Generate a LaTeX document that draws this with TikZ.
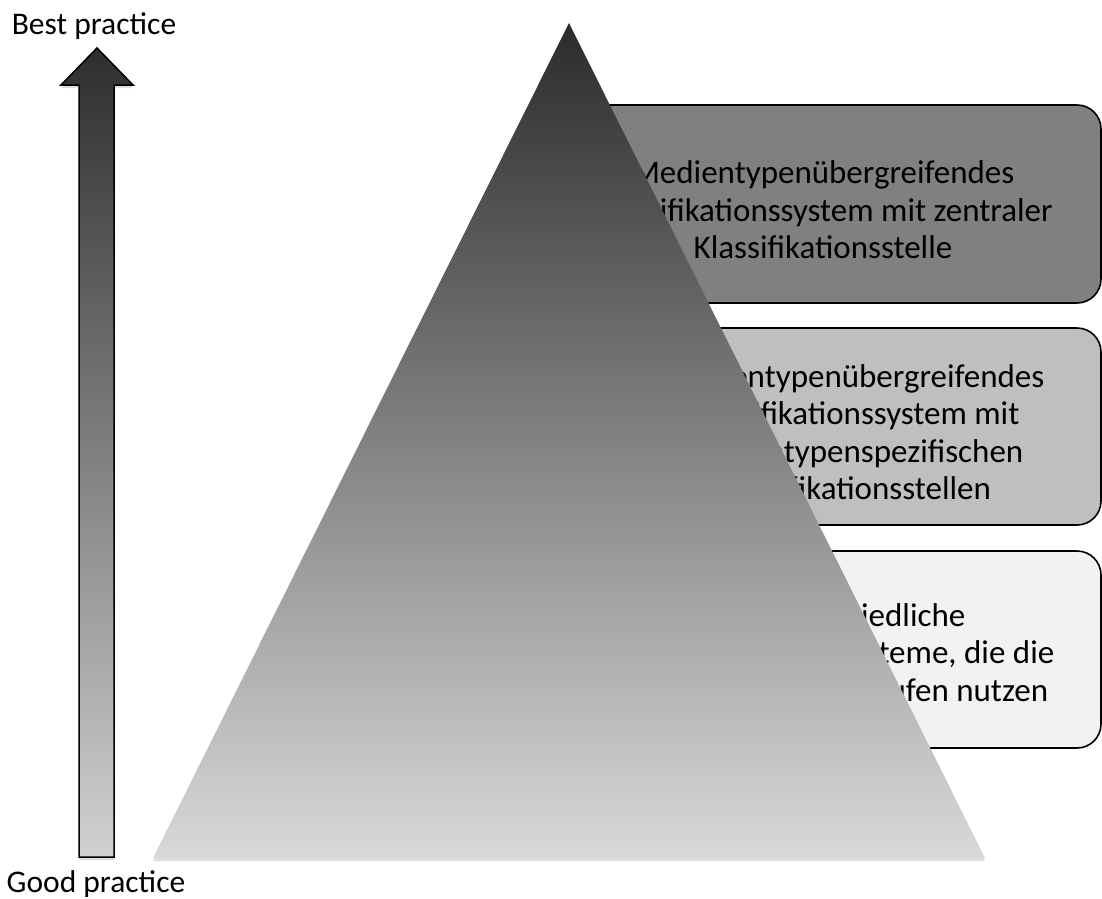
\documentclass[tikz,border=0pt]{standalone}
\usepackage{fontspec}
\setmainfont{Carlito}
\usetikzlibrary{shadows}
\definecolor{stagedark}{gray}{0.5}
\definecolor{stagemid}{gray}{0.75}
\definecolor{stagelight}{gray}{0.95}
\newcommand{\stagefont} {\fontsize{33}{37.5}\selectfont}
\newcommand{\practfont} {\fontsize{31.5}{36}\selectfont}

\begin{document}
\begin{tikzpicture}[x=1pt,y=-1pt,
    stage/.style={draw=black,line width=1.6pt,rounded corners=24pt},
    stagetext/.style={align=center,font=\stagefont,inner sep=0pt},
    endtext/.style={font=\practfont,inner sep=0pt},
    soft/.style={drop shadow={opacity=0.25,shadow xshift=0pt,shadow yshift=-3pt}}]
       \useasboundingbox (0,0) rectangle (1102,898);
       % stages, partly hidden by the pyramid
       \filldraw[stage,fill=stagedark] (560,105) -- (1101,105) -- (1101,303) -- (560,303);
       \filldraw[stage,fill=stagemid] (560,328) -- (1101,328) -- (1101,525) -- (560,525);
       \filldraw[stage,fill=stagelight] (560,551) -- (1101,551) -- (1101,748) -- (560,748);
       \node[stagetext] (top) at (823,210) {Medientypenübergreifendes\\Klassifikationssystem mit zentraler\\Klassifikationsstelle};
       \node[stagetext] (mid) at (853,432) {Medientypenübergreifendes\\Klassifikationssystem mit\\medientypenspezifischen\\Klassifikationsstellen};
       \node[stagetext] (low) at (853,655) {Unterschiedliche\\Klassifikationssysteme, die die\\gleichen Schutzstufen nutzen};
       % pyramid
       \shade[soft,top color=black!83,bottom color=black!15] (153,858) -- (985,858) -- (569,23) -- cycle;
       % arrow
       \shadedraw[soft,draw=black,line width=1.5pt,top color=black!82,bottom color=black!18]
         (79,857) -- (114,857) -- (114,85) -- (133,85) -- (97,48) -- (61,85) -- (79,85) -- cycle;
       \node[endtext] (best) at (94,26) {Best practice};
       \node[endtext,anchor=base] (good) at (96,892) {Good practice};
\end{tikzpicture}
\end{document}
